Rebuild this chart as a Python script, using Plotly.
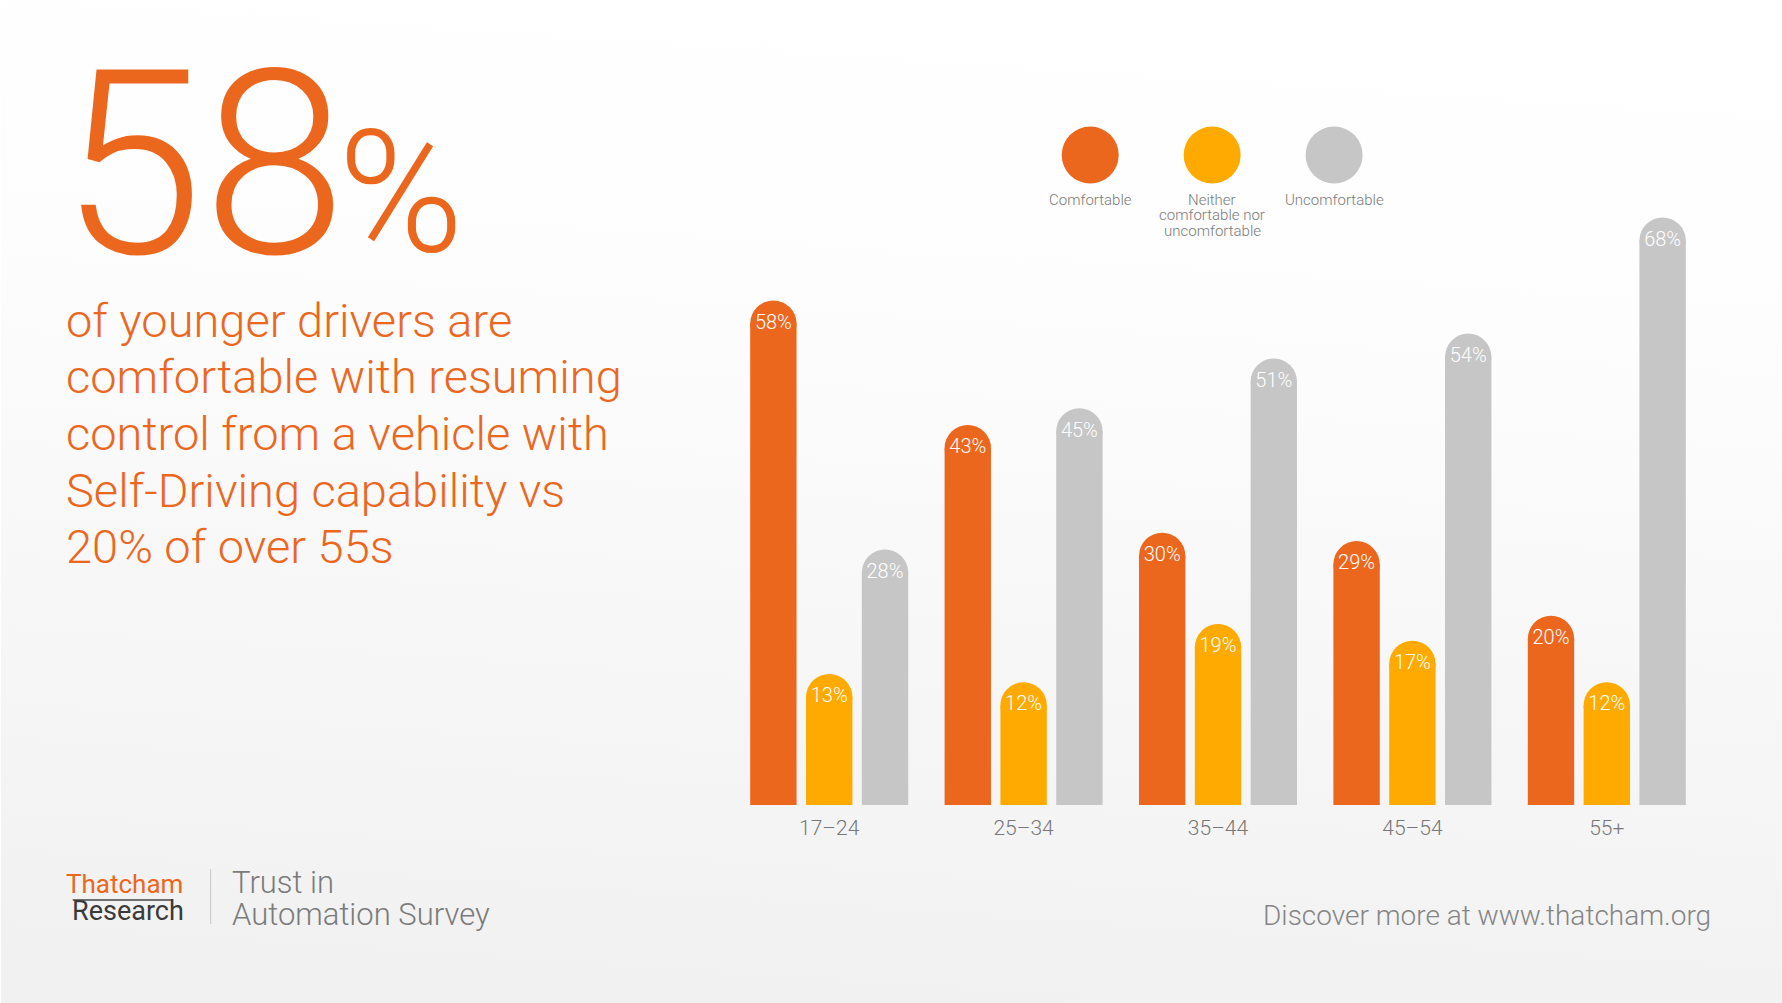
import base64
import plotly.graph_objects as go

# ---------------- data ----------------
categories = ["17–24", "25–34", "35–44", "45–54", "55+"]
series_names = ["Comfortable", "Neither comfortable nor uncomfortable", "Uncomfortable"]
comfortable = [58, 43, 30, 29, 20]
neither = [13, 12, 19, 17, 12]
uncomfortable = [28, 45, 51, 54, 68]
series_values = [comfortable, neither, uncomfortable]
legend_lines = [["Comfortable"], ["Neither", "comfortable nor", "uncomfortable"], ["Uncomfortable"]]

# ---------------- style ----------------
ORANGE = "#EC671E"
YELLOW = "#FFAA00"
GREY = "#C6C6C6"
colors = [ORANGE, YELLOW, GREY]
FONT = "Roboto"
LIGHT = "Roboto Light, Roboto"

W, H = 1782, 1003
ML, MR, MT, MB = 731.6, 77.9, 141, 198
PW = W - ML - MR
PH = H - MT - MB
UNIT = PW / 5.0            # px per category
PITCH = 55.85 / UNIT       # bar spacing inside a group (data units)
BW = 46.4 / UNIT           # bar width (data units)
CAP = BW * UNIT            # cap diameter in px


def px(x):
    return (x - ML) / PW


def py(y):
    return (H - MB - y) / PH


fig = go.Figure()

for j, (name, vals, col) in enumerate(zip(series_names, series_values, colors)):
    xs = [i + (j - 1) * PITCH for i in range(len(categories))]
    fig.add_trace(go.Bar(
        x=xs, y=vals, width=BW, name=name,
        marker=dict(color=col, line=dict(width=0)),
        hoverinfo="skip", showlegend=False,
    ))
    fig.add_trace(go.Scatter(
        x=xs, y=vals, mode="markers+text", name=name,
        marker=dict(size=CAP, color=col, line=dict(width=0)),
        text=[f"{v}%" for v in vals], textposition="middle center",
        textfont=dict(family=LIGHT, size=20, color="white", weight=300),
        cliponaxis=False, hoverinfo="skip", showlegend=False,
    ))

# background gradient
svg = (
    '<svg xmlns="http://www.w3.org/2000/svg" width="1782" height="1003" '
    'viewBox="0 0 1782 1003" preserveAspectRatio="none">'
    '<defs><linearGradient id="g" x1="0.56" y1="0" x2="0.44" y2="1">'
    '<stop offset="0" stop-color="#ffffff"/>'
    '<stop offset="0.3" stop-color="#fdfdfd"/>'
    '<stop offset="1" stop-color="#f1f1f1"/>'
    '</linearGradient></defs>'
    '<rect width="1782" height="1003" fill="url(#g)"/></svg>'
)
src = "data:image/svg+xml;base64," + base64.b64encode(svg.encode()).decode()

annotations = []


def txt(text, x, y, size, color, family=LIGHT, weight=300, xanchor="left"):
    annotations.append(dict(
        text=text, x=px(x), y=py(y), xref="paper", yref="paper",
        xanchor=xanchor, yanchor="middle", showarrow=False,
        font=dict(family=family, size=size, color=color, weight=weight),
    ))


# headline
txt("58", 57, 253 - 0.342 * 258, 258, ORANGE)
txt("%", 335, 251 - 0.342 * 170, 170, ORANGE)

para = [
    "of younger drivers are",
    "comfortable with resuming",
    "control from a vehicle with",
    "Self-Driving capability vs",
    "20% of over 55s",
]
para_baselines = [337, 393, 450, 507, 563]
for line, b in zip(para, para_baselines):
    txt(line, 63, b - 0.342 * 47, 47, ORANGE)

# legend
legend_cx = [1090, 1212, 1334]
shapes = []
for cx, col, lines in zip(legend_cx, colors, legend_lines):
    shapes.append(dict(type="circle", xref="paper", yref="paper",
                       x0=px(cx - 28.5), x1=px(cx + 28.5),
                       y0=py(183.5), y1=py(126.5),
                       fillcolor=col, line=dict(width=0)))
    for k, ln in enumerate(lines):
        txt(ln, cx, 200 + 15.5 * k, 15, "#7a7a7a", xanchor="center")

# footer
txt("Thatcham", 63, 893 - 0.342 * 26, 26, ORANGE, family=FONT, weight=400)
txt("Research", 69, 920 - 0.342 * 27, 27, "#3a3a3a", family=FONT, weight=400)
shapes.append(dict(type="line", xref="paper", yref="paper",
                   x0=px(72), x1=px(172), y0=py(900), y1=py(900),
                   line=dict(color="#444444", width=1.5)))
shapes.append(dict(type="line", xref="paper", yref="paper",
                   x0=px(210), x1=px(210), y0=py(869), y1=py(924),
                   line=dict(color="#c8c8c8", width=1)))
txt("Trust in", 229, 893 - 0.342 * 31, 31, "#7b7b7b")
txt("Automation Survey", 229, 925 - 0.342 * 31, 31, "#7b7b7b")
txt("Discover more at www.thatcham.org", 1713, 925 - 0.342 * 28, 28, "#858585",
    xanchor="right")

fig.update_layout(
    width=W, height=H, autosize=False,
    margin=dict(l=ML, r=MR, t=MT, b=MB, pad=0),
    paper_bgcolor="#ffffff", plot_bgcolor="rgba(0,0,0,0)",
    barmode="overlay", showlegend=False,
    font=dict(family=FONT),
    annotations=annotations, shapes=shapes,
    images=[dict(source=src, xref="paper", yref="paper",
                 x=px(0), y=py(0), sizex=W / PW, sizey=H / PH,
                 xanchor="left", yanchor="top", sizing="stretch",
                 layer="below")],
    xaxis=dict(range=[-0.5, 4.5], tickvals=list(range(len(categories))),
               ticktext=categories, showgrid=False, zeroline=False,
               showline=False, ticks="", ticklabelstandoff=8,
               tickfont=dict(family=LIGHT, size=21, color="#777777", weight=300),
               fixedrange=True),
    yaxis=dict(range=[0, 80], visible=False, fixedrange=True),
)

fig.write_html("out.html", config={"displayModeBar": False},
               post_script="document.body.style.margin='0';")
